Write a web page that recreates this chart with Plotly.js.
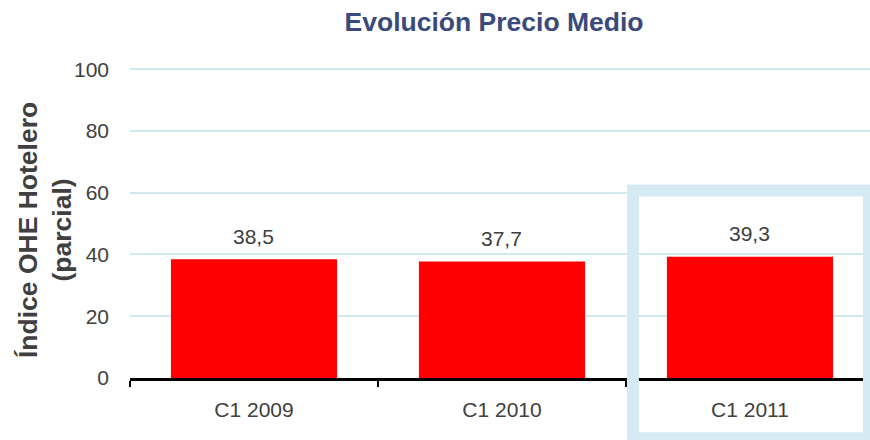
<!DOCTYPE html>
<html>
<head>
<meta charset="utf-8">
<script src="https://cdn.plot.ly/plotly-3.0.1.min.js"></script>
<style>html,body{margin:0;padding:0;background:#fff;}#chart{width:870px;height:440px;}</style>
</head>
<body>
<div id="chart"></div>
<script>
const categories = ['C1 2009', 'C1 2010', 'C1 2011'];
const values = [38.5, 37.7, 39.3];
const yTicks = [0, 20, 40, 60, 80, 100];
const highlighted = 'C1 2011';
const chartTitle = 'Evolución Precio Medio';
const yTitleLines = ['Índice OHE Hotelero', '(parcial)'];

const hi = categories.indexOf(highlighted);
const fontFam = 'Liberation Sans, Arial, sans-serif';
const labelColor = '#404040';

const trace = {
  type: 'bar',
  x: categories,
  y: values,
  width: 0.67,
  marker: {color: '#ff0000', line: {width: 0}},
  hoverinfo: 'skip'
};

const valueAnnotations = categories.map((c, i) => ({
  x: c, y: values[i], xref: 'x', yref: 'y',
  text: values[i].toFixed(1).replace('.', ','),
  showarrow: false, yanchor: 'middle', yshift: 23,
  font: {family: fontFam, size: 21, color: labelColor}
}));

const layout = {
  width: 870, height: 440,
  margin: {l: 130, r: 0, t: 68, b: 62},
  paper_bgcolor: '#fff', plot_bgcolor: '#fff',
  separators: ',.',
  showlegend: false,
  title: {
    text: chartTitle,
    font: {family: fontFam, size: 26.5, color: '#3a4a7b', weight: 'bold'},
    xref: 'paper', x: 0.492, xanchor: 'center',
    yref: 'container', y: 0.95, yanchor: 'middle'
  },
  xaxis: {
    type: 'category',
    range: [-0.5, 2.484],
    showline: true, linecolor: '#000', linewidth: 3,
    ticks: 'outside', tickson: 'boundaries', ticklen: 6, tickwidth: 2, tickcolor: '#000',
    ticklabelstandoff: 11,
    tickfont: {family: fontFam, size: 21, color: labelColor},
    showgrid: false, zeroline: false
  },
  yaxis: {
    range: [0, 100.4],
    tickvals: yTicks,
    ticktext: yTicks.map(String),
    showgrid: true, gridcolor: '#d3e9f2', gridwidth: 2,
    zeroline: false, showline: false, ticks: '',
    ticklabelstandoff: 20,
    tickfont: {family: fontFam, size: 21, color: labelColor}
  },
  annotations: valueAnnotations.concat([{
    xref: 'paper', yref: 'paper', x: -0.115, y: 0.477,
    xanchor: 'center', yanchor: 'middle', textangle: -90,
    text: '<b>' + yTitleLines.join('<br>') + '</b>',
    showarrow: false,
    font: {family: fontFam, size: 26.5, color: labelColor}
  }]),
  shapes: [{
    type: 'rect', xref: 'x', yref: 'paper',
    x0: hi - 0.472, x1: hi + 0.48, y0: -0.194, y1: 0.605,
    line: {color: '#d6eaf3', width: 12},
    fillcolor: 'rgba(0,0,0,0)', layer: 'above'
  }]
};

Plotly.newPlot('chart', [trace], layout, {displayModeBar: false, staticPlot: true});
</script>
</body>
</html>
